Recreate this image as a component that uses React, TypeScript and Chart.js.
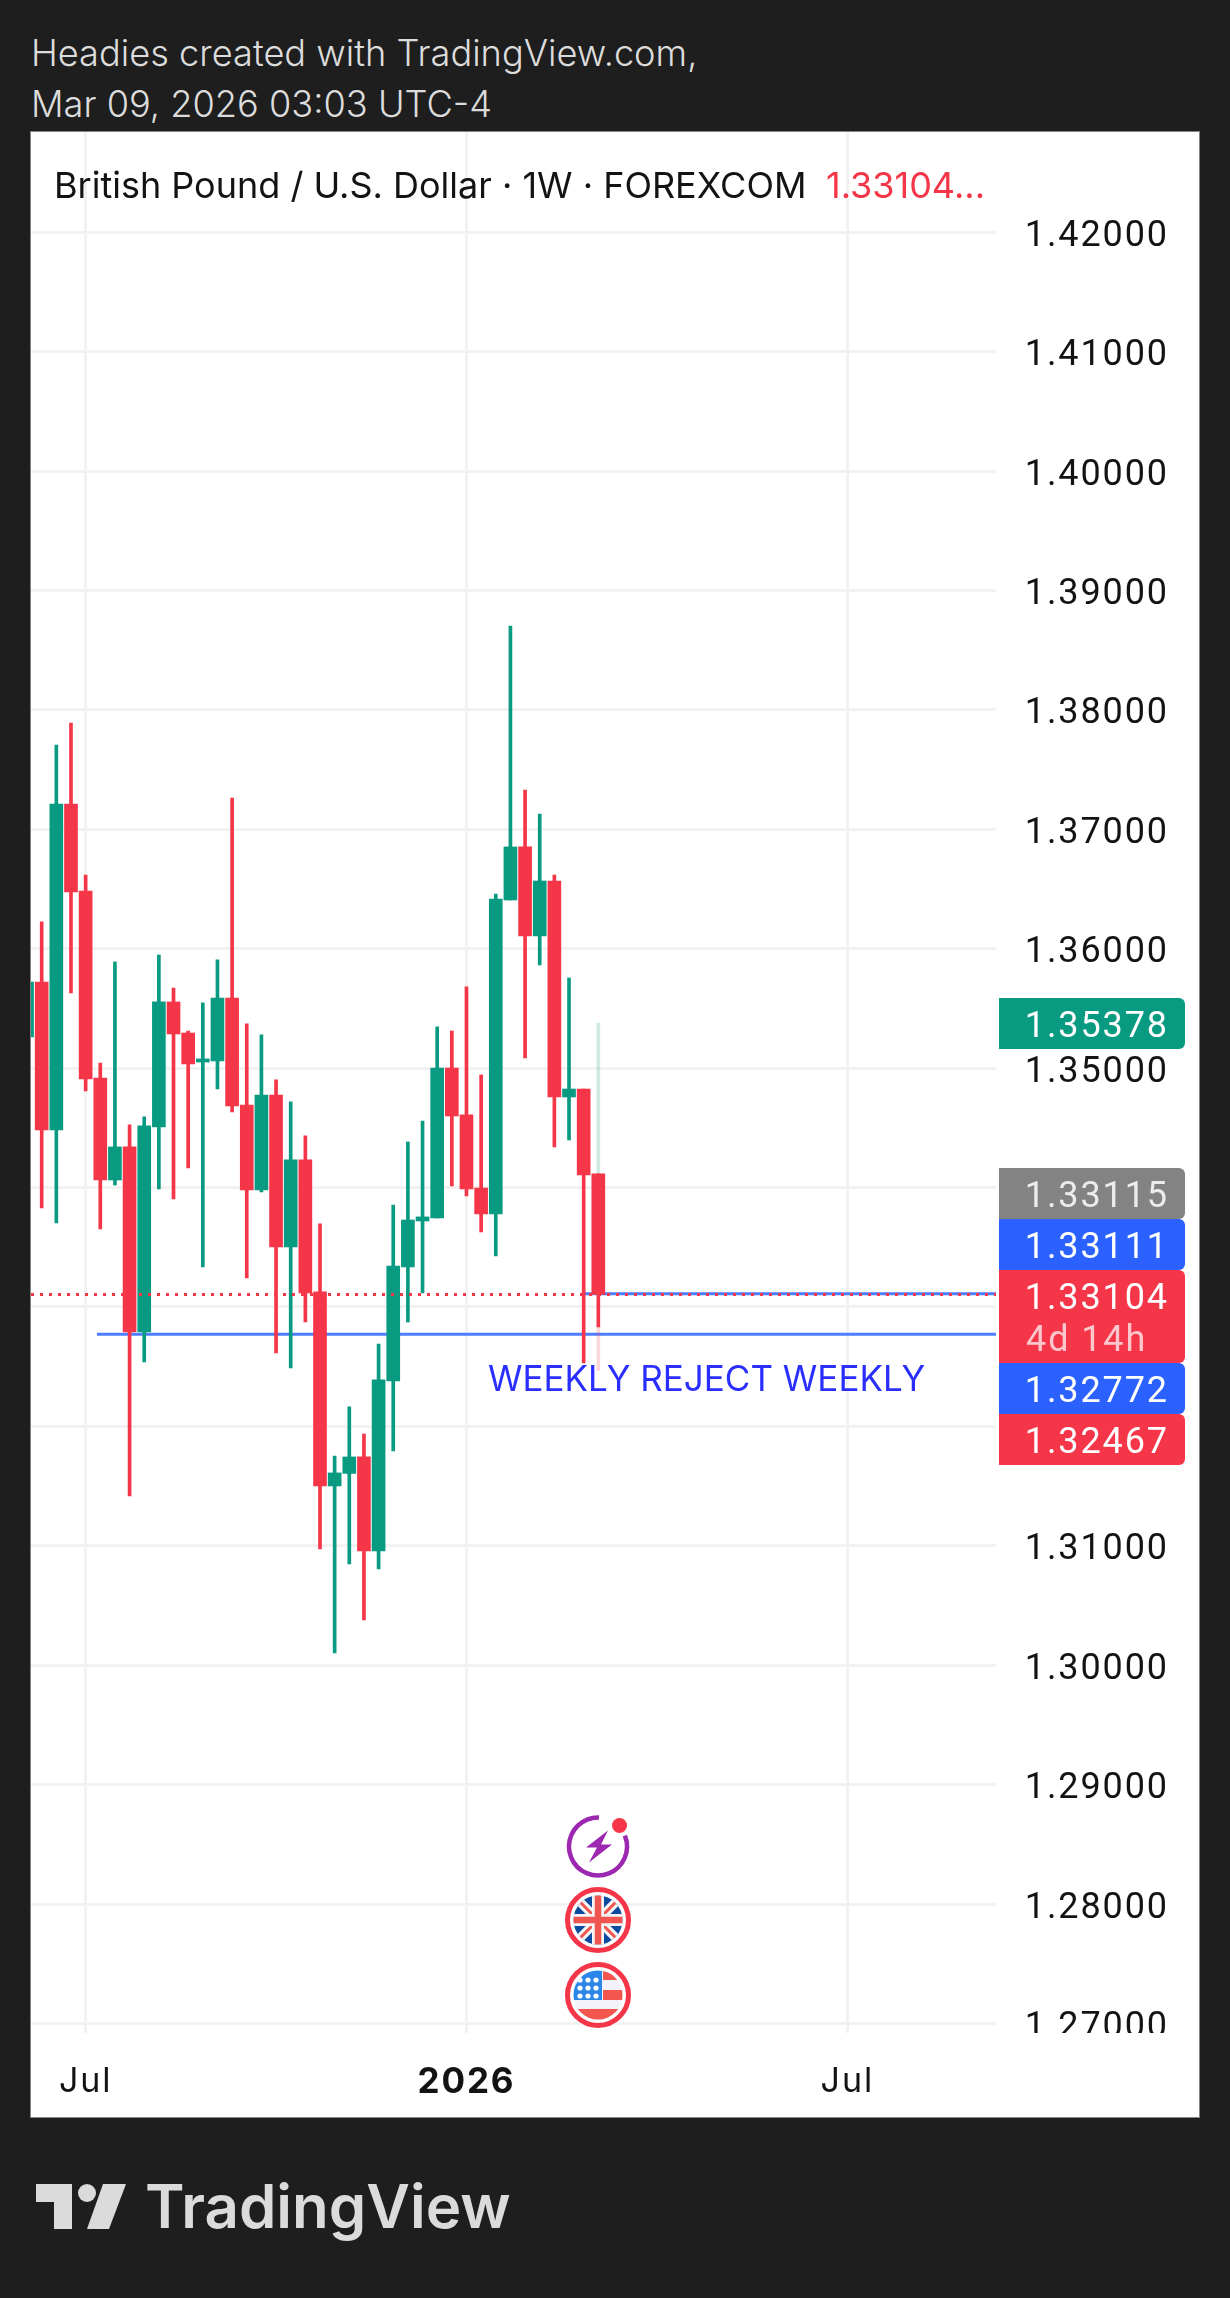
import React, { useEffect, useRef } from "react";
import { Chart, registerables } from "chart.js";

Chart.register(...registerables);

const FONT = "Inter, 'Noto Sans', sans-serif";
const NUM_FONT = "Roboto, Inter, sans-serif";
const GREEN = "#089b81";
const RED = "#f43648";
const BLUE = "#2b62ff";
const LINE_BLUE = "#4f7dff";
const GRID = "#f2f2f2";
const INK = "#131313";

// Weekly candles, index 0 = first week visible at the left edge
const opens = [1.35261,1.35721,1.34482,1.37212,1.36483,1.34917,1.34063,1.3434,1.32791,1.34507,1.35554,1.35294,1.35051,1.3506,1.35587,1.34691,1.3398,1.34775,1.33502,1.34231,1.33126,1.31501,1.31606,1.31744,1.30957,1.3238,1.33335,1.3372,1.33745,1.35001,1.34608,1.33996,1.33779,1.36408,1.36852,1.36107,1.36567,1.34758,1.34825,1.34114];
const highs = [1.3595,1.36224,1.37706,1.3789,1.36617,1.35043,1.35889,1.34524,1.34591,1.35947,1.35671,1.35311,1.35546,1.35906,1.37262,1.3537,1.35278,1.34901,1.34717,1.34432,1.33695,1.31752,1.32163,1.31936,1.3269,1.33854,1.34382,1.34557,1.35345,1.35311,1.3568,1.34943,1.36458,1.38702,1.37329,1.37128,1.36617,1.35755,1.34825,1.34114];
const lows = [1.348,1.33829,1.33703,1.35629,1.34809,1.33653,1.34021,1.31417,1.32539,1.33988,1.33904,1.34164,1.33335,1.34825,1.34633,1.33243,1.33963,1.32615,1.32489,1.32874,1.30973,1.30103,1.30848,1.30379,1.30806,1.31794,1.32874,1.33117,1.33745,1.34013,1.33929,1.33628,1.33427,1.36408,1.35085,1.35864,1.3434,1.34398,1.32531,1.32832];
const closes = [1.35721,1.34482,1.37212,1.36475,1.34909,1.34063,1.3434,1.32791,1.34516,1.35554,1.35286,1.35035,1.35077,1.35587,1.34683,1.3398,1.34775,1.33502,1.34231,1.33117,1.31501,1.3161,1.31744,1.30957,1.32389,1.33343,1.33728,1.33754,1.35001,1.34599,1.33988,1.33779,1.36416,1.36852,1.36107,1.36567,1.34758,1.34825,1.34105,1.33104];

// Ghost (extended session) range of the running candle
const ghostHigh = 1.35378;
const ghostLow = 1.32467;

const yTicks = [1.42,1.41,1.40,1.39,1.38,1.37,1.36,1.35,1.34,1.33,1.32,1.31,1.30,1.29,1.28,1.27];
const xTickIndex = [4, 30, 56];
const xTickLabels = ["Jul", "2026", "Jul"];

const lastPrice = 1.33104;
const lineLevelA = 1.33111;
const lineLevelB = 1.32772;
const lineAStart = 38;
const lineBStart = 4.77;

const xMin = 0.27;
const xMax = 66.15;
const yMin = 1.2692;
const yMax = 1.42839;

const candleColors = closes.map((c, i) => (c >= opens[i] ? GREEN : RED));

const titleMain = "British Pound / U.S. Dollar · 1W · FOREXCOM";
const titlePrice = "1.33104...";
const noteText = "WEEKLY REJECT WEEKLY";

const overlay = {
  id: "overlay",
  beforeDraw(chart: any) {
    chart.ctx.letterSpacing = "1.9px";
  },
  afterDatasetsDraw(chart: any) {
    const { ctx } = chart;
    const y = chart.scales.y;
    const px = (v: number) => y.getPixelForValue(v);
    const ox = -31;
    const oy = -132;
    ctx.save();

    // clip the lowest axis label at the pane bottom
    ctx.fillStyle = "#ffffff";
    ctx.fillRect(chart.chartArea.right, chart.chartArea.bottom, 203, 24);

    // title
    ctx.letterSpacing = "0px";
    ctx.textBaseline = "alphabetic";
    ctx.textAlign = "left";
    ctx.font = `400 36px ${FONT}`;
    ctx.fillStyle = INK;
    ctx.fillText(titleMain, 54 + ox, 198 + oy);
    ctx.fillStyle = RED;
    ctx.fillText(titlePrice, 826 + ox, 198 + oy);

    // note
    ctx.font = `400 35px ${FONT}`;
    ctx.fillStyle = "#2a2eff";
    ctx.fillText(noteText, 488 + ox, 1391 + oy);

    // price labels
    ctx.letterSpacing = "1.9px";
    const box = (top: number, h: number, color: string) => {
      ctx.fillStyle = color;
      ctx.beginPath();
      ctx.roundRect(999 + ox, top, 186, h, [0, 6, 6, 0]);
      ctx.fill();
    };
    const lab = (text: string, mid: number, color = "#ffffff", align = "right") => {
      ctx.font = `400 36px ${NUM_FONT}`;
      ctx.fillStyle = color;
      ctx.textAlign = align;
      ctx.textBaseline = "middle";
      ctx.fillText(text, (align === "right" ? 1169 : 1026) + ox, mid);
    };
    const redTop = Math.round(px(lastPrice)) - 25;
    const greenMid = px(ghostHigh);
    box(greenMid - 25, 51, GREEN);
    lab(ghostHigh.toFixed(5), greenMid + 5);
    box(redTop - 102, 51, "#838383");
    lab("1.33115", redTop - 72, "#ececec");
    box(redTop - 51, 51, BLUE);
    lab(lineLevelA.toFixed(5), redTop - 21);
    box(redTop, 93, RED);
    lab(lastPrice.toFixed(5), redTop + 30);
    lab("4d 14h", redTop + 72, "rgba(255,255,255,0.72)", "left");
    box(redTop + 93, 51, BLUE);
    lab(lineLevelB.toFixed(5), redTop + 123);
    box(redTop + 144, 51, RED);
    lab(ghostLow.toFixed(5), redTop + 174);
    ctx.letterSpacing = "0px";

    // event icons
    const cx = 598 + ox;
    const cy1 = 1846.5 + oy;
    const cy2 = 1920 + oy;
    const cy3 = 1995 + oy;
    const rad = (d: number) => (d * Math.PI) / 180;

    ctx.strokeStyle = "#9c27b0";
    ctx.lineWidth = 4.5;
    ctx.beginPath();
    ctx.arc(cx, cy1, 29, rad(-22), rad(-88));
    ctx.stroke();
    ctx.fillStyle = "#9c27b0";
    ctx.beginPath();
    [[10,-16],[-12,1],[-1,1],[-9,16],[14,-2],[3,-2]].forEach(([a, b], i) =>
      i ? ctx.lineTo(cx + a, cy1 + b) : ctx.moveTo(cx + a, cy1 + b));
    ctx.closePath();
    ctx.fill();
    ctx.fillStyle = RED;
    ctx.beginPath();
    ctx.arc(cx + 21.5, cy1 - 21, 7.5, 0, Math.PI * 2);
    ctx.fill();

    const ring = (cyy: number) => {
      ctx.strokeStyle = RED;
      ctx.lineWidth = 5;
      ctx.beginPath();
      ctx.arc(cx, cyy, 30.5, 0, Math.PI * 2);
      ctx.stroke();
    };

    // UK flag
    ring(cy2);
    ctx.save();
    ctx.beginPath();
    ctx.arc(cx, cy2, 24.5, 0, Math.PI * 2);
    ctx.clip();
    ctx.fillStyle = "#0d4ba0";
    ctx.fillRect(cx - 26, cy2 - 26, 52, 52);
    ctx.strokeStyle = "#f5f5f5";
    ctx.lineWidth = 9;
    ctx.beginPath();
    ctx.moveTo(cx - 26, cy2 - 26); ctx.lineTo(cx + 26, cy2 + 26);
    ctx.moveTo(cx + 26, cy2 - 26); ctx.lineTo(cx - 26, cy2 + 26);
    ctx.stroke();
    ctx.strokeStyle = "#f0564f";
    ctx.lineWidth = 3;
    ctx.stroke();
    ctx.strokeStyle = "#f5f5f5";
    ctx.lineWidth = 12;
    ctx.beginPath();
    ctx.moveTo(cx, cy2 - 26); ctx.lineTo(cx, cy2 + 26);
    ctx.moveTo(cx - 26, cy2); ctx.lineTo(cx + 26, cy2);
    ctx.stroke();
    ctx.strokeStyle = "#f0564f";
    ctx.lineWidth = 6.5;
    ctx.stroke();
    ctx.restore();

    // US flag
    ring(cy3);
    ctx.save();
    ctx.beginPath();
    ctx.arc(cx, cy3, 24.5, 0, Math.PI * 2);
    ctx.clip();
    ctx.fillStyle = "#f2f2f8";
    ctx.fillRect(cx - 26, cy3 - 26, 52, 52);
    ctx.fillStyle = "#f2564f";
    ctx.fillRect(cx + 5, cy3 - 24, 22, 9);
    ctx.fillRect(cx + 5, cy3 - 5, 22, 10);
    ctx.fillRect(cx - 26, cy3 + 14, 52, 12);
    ctx.fillStyle = "#2a86e8";
    ctx.fillRect(cx - 26, cy3 - 26, 30, 31);
    ctx.fillStyle = "#ffffff";
    [-15, -7, 1].forEach((dy) =>
      [-18, -10, -2].forEach((dx) => {
        ctx.beginPath();
        ctx.arc(cx + dx, cy3 + dy, 2.6, 0, Math.PI * 2);
        ctx.fill();
      }));
    ctx.restore();

    ctx.restore();
  },
};

export default function App() {
  const ref = useRef<HTMLCanvasElement>(null);

  useEffect(() => {
    const xs = closes.map((_, i) => i);
    const chart = new Chart(ref.current as HTMLCanvasElement, {
      type: "bar",
      plugins: [overlay],
      data: {
        datasets: [
          {
            type: "line", order: 10, borderColor: LINE_BLUE, borderWidth: 3, pointRadius: 0,
            data: [{ x: lineBStart, y: lineLevelB }, { x: xMax, y: lineLevelB }],
          },
          {
            type: "line", order: 9, borderColor: LINE_BLUE, borderWidth: 3, pointRadius: 0,
            data: [{ x: lineAStart, y: lineLevelA }, { x: xMax, y: lineLevelA }],
          },
          {
            order: 6, grouped: false, barThickness: 3, borderWidth: 0,
            backgroundColor: "rgba(8,155,129,0.2)",
            data: [{ x: 39, y: [opens[39], ghostHigh] }],
          },
          {
            order: 6, grouped: false, barThickness: 3, borderWidth: 0,
            backgroundColor: "rgba(244,54,72,0.2)",
            data: [{ x: 39, y: [ghostLow, lows[39]] }],
          },
          {
            order: 5, grouped: false, barThickness: 3, borderWidth: 0,
            backgroundColor: candleColors,
            data: xs.map((i) => ({ x: i, y: [lows[i], highs[i]] })),
          },
          {
            order: 4, grouped: false, barThickness: 13, borderWidth: 0,
            backgroundColor: candleColors,
            data: xs.map((i) => ({ x: i, y: [opens[i], closes[i]] })),
          },
          {
            type: "line", order: 1, borderColor: RED, borderWidth: 3, borderDash: [3, 6], pointRadius: 0,
            data: [{ x: xMin, y: lastPrice }, { x: xMax, y: lastPrice }],
          },
        ],
      } as any,
      options: {
        animation: false,
        responsive: false,
        maintainAspectRatio: false,
        layout: { padding: { left: 0, top: 0, bottom: 0, right: 30 } },
        plugins: { legend: { display: false }, tooltip: { enabled: false }, title: { display: false } },
        scales: {
          x: {
            type: "linear",
            min: xMin,
            max: xMax,
            offset: false,
            afterFit: (s: any) => { s.height = 84; s.paddingLeft = 0; s.paddingRight = 0; },
            afterBuildTicks: (s: any) => { s.ticks = xTickIndex.map((value) => ({ value })); },
            border: { display: false },
            grid: { color: GRID, lineWidth: 3, drawTicks: false, offset: false },
            ticks: {
              autoSkip: false,
              maxRotation: 0,
              padding: 28,
              color: INK,
              callback: (v: any) => xTickLabels[xTickIndex.indexOf(Number(v))],
              font: (c: any) => ({
                family: FONT,
                size: c.tick && c.tick.value === 30 ? 35 : 34,
                weight: c.tick && c.tick.value === 30 ? "700" : "400",
              }),
            },
          },
          y: {
            type: "linear",
            position: "right",
            min: yMin,
            max: yMax,
            afterFit: (s: any) => { s.width = 173; s.paddingTop = 0; s.paddingBottom = 0; },
            afterBuildTicks: (s: any) => { s.ticks = yTicks.map((value) => ({ value })); },
            border: { display: false },
            grid: { color: GRID, lineWidth: 3, drawTicks: false },
            ticks: {
              crossAlign: "far",
              padding: 0,
              labelOffset: 4.5,
              color: INK,
              autoSkip: false,
              callback: (v: any) => Number(v).toFixed(5),
              font: { family: NUM_FONT, size: 36, weight: "400" },
            },
          },
        },
      } as any,
    });
    return () => chart.destroy();
  }, []);

  const head: React.CSSProperties = {
    position: "absolute", left: 31, color: "#dcdcdc", font: `300 36.2px ${FONT}`, lineHeight: "51px", whiteSpace: "nowrap",
  };

  return (
    <div style={{ position: "absolute", left: 0, top: 0, width: 1230, height: 2298, background: "#1e1e1e", overflow: "hidden" }}>
      <div style={{ ...head, top: 28 }}>Headies created with TradingView.com,</div>
      <div style={{ ...head, top: 79 }}>Mar 09, 2026 03:03 UTC-4</div>
      <div style={{ position: "absolute", left: 30, top: 131, width: 1170, height: 1987, boxSizing: "border-box", border: "1px solid #858585", background: "#fff" }} />
      <canvas ref={ref} width={1168} height={1985} style={{ position: "absolute", left: 31, top: 132, width: 1168, height: 1985 }} />
      <svg style={{ position: "absolute", left: 36, top: 2184 }} width={90} height={46} viewBox="0 0 90 46">
        <path d="M0 0H36V45H18V18H0Z" fill="#dbdbdb" />
        <circle cx={51} cy={9} r={9} fill="#dbdbdb" />
        <path d="M67 0H90L73 45H51Z" fill="#dbdbdb" />
      </svg>
      <div style={{ position: "absolute", left: 145, top: 2168, color: "#dbdbdb", font: `600 60px ${FONT}`, lineHeight: "76px", whiteSpace: "nowrap" }}>TradingView</div>
    </div>
  );
}
